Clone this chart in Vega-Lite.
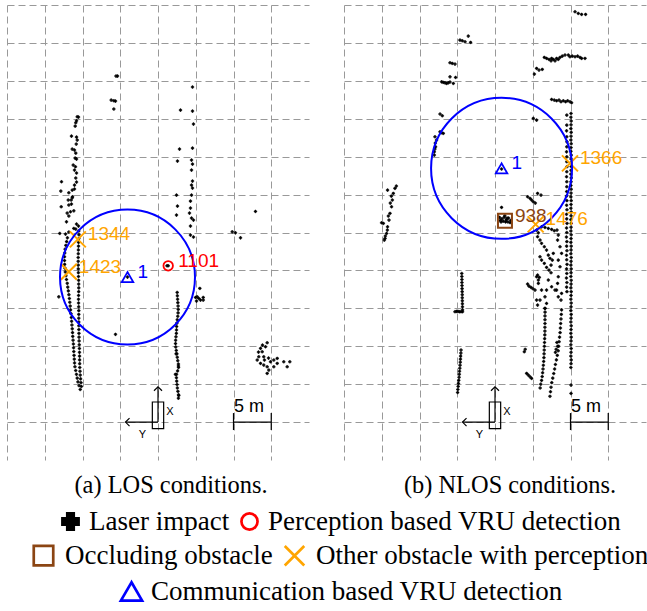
{
"$schema": "https://vega.github.io/schema/vega-lite/v6.json",
"padding": {"left": 7, "top": 5, "right": 0, "bottom": 0},
"bounds": "flush",
"spacing": 35,
"config": {
 "view": {"stroke": null},
 "axis": {"grid": true, "gridColor": "#999999", "gridDash": [7, 4], "gridWidth": 1, "gridOpacity": 1, "domain": false, "ticks": false, "labels": false},
 "legend": {"labelFont": "Liberation Serif", "labelFontSize": 27, "labelColor": "#000000", "labelLimit": 2000, "padding": 0, "symbolStrokeWidth": 2.7}
},
"datasets": {
 "markersA": [
  {"x": -10.62, "y": 24.09, "kind": "Other obstacle with perception", "id": "1344"},
  {"x": -11.81, "y": 19.82, "kind": "Other obstacle with perception", "id": "1423"},
  {"x": -4.04, "y": 19.12, "kind": "Communication based VRU detection", "id": "1"},
  {"x": 1.35, "y": 20.61, "kind": "Perception based VRU detection", "id": "1101"}
 ],
 "markersB": [
  {"x": 0.87, "y": 33.46, "kind": "Communication based VRU detection", "id": "1"},
  {"x": 1.32, "y": 26.55, "kind": "Occluding obstacle", "id": "938"},
  {"x": 5.38, "y": 26.07, "kind": "Other obstacle with perception", "id": "1476"},
  {"x": 9.93, "y": 34.12, "kind": "Other obstacle with perception", "id": "1366"}
 ],
 "veh": [{"x": -0.75, "x2": 0.75, "y": -0.85, "y2": 2.65}],
 "rules": [
  {"x": 0, "y": 0, "x2": 0, "y2": 4.66},
  {"x": 0, "y": 0, "x2": -4.3, "y2": 0},
  {"x": 10, "y": 0, "x2": 15, "y2": 0},
  {"x": 10, "y": -1.05, "x2": 10, "y2": 1.19},
  {"x": 15, "y": -1.05, "x2": 15, "y2": 1.19}
 ],
 "headUp": [{"x": 0, "y": 4.66}],
 "headLeft": [{"x": -4.3, "y": 0}],
 "letters": [{"x": 1.1, "y": 0.92, "t": "X"}, {"x": -2.54, "y": -2.11, "t": "Y"}],
 "scaleText": [{"x": 10.05, "y": 1.32, "t": "5  m"}],
 "lidarA": [
  {"x":-5.56,"y":45.63},{"x":-5.36,"y":45.63},{"x":-6.20,"y":42.46},{"x":-5.85,"y":42.37},{"x":-5.63,"y":42.33},{"x":-5.85,"y":41.28},
  {"x":-10.70,"y":40.26},{"x":-10.53,"y":40.22},{"x":-10.79,"y":39.73},{"x":-10.89,"y":39.47},{"x":-10.97,"y":39.03},{"x":-11.46,"y":37.71},{"x":-10.79,"y":37.58},{"x":-10.70,"y":37.19},{"x":-10.83,"y":36.66},{"x":-11.36,"y":36.00},{"x":-11.06,"y":35.87},{"x":-10.89,"y":35.47},{"x":-10.97,"y":34.81},{"x":-10.79,"y":34.68},{"x":-11.23,"y":33.89},{"x":-10.93,"y":33.67},{"x":-11.06,"y":33.23},{"x":-10.79,"y":32.84},{"x":-10.89,"y":32.18},{"x":-10.79,"y":31.65},{"x":-11.06,"y":31.25},{"x":-12.78,"y":31.69},{"x":-12.87,"y":30.46},{"x":-11.81,"y":30.24},{"x":-11.36,"y":30.59},{"x":-11.06,"y":30.73},{"x":-11.32,"y":29.71},{"x":-11.50,"y":29.28},{"x":-11.89,"y":29.28},{"x":-11.36,"y":29.58},{"x":-12.82,"y":28.39},{"x":-11.81,"y":28.62},{"x":-11.46,"y":28.75},{"x":-12.03,"y":27.56},{"x":-11.59,"y":27.73},{"x":-11.15,"y":27.86},{"x":-11.81,"y":27.17},{"x":-12.12,"y":26.41},{"x":-10.79,"y":26.11},{"x":-10.53,"y":25.85},{"x":-11.15,"y":25.54},{"x":-10.89,"y":25.45},{"x":-11.81,"y":25.06},{"x":-12.25,"y":24.79},{"x":-13.01,"y":24.88},
  {"x":-12.0,"y":24.3},{"x":-12.1,"y":23.8},{"x":-12.2,"y":23.3},{"x":-12.3,"y":22.8},{"x":-12.35,"y":22.3},{"x":-12.38,"y":21.8},{"x":-12.38,"y":21.3},{"x":-12.36,"y":20.8},{"x":-12.32,"y":20.3},{"x":-12.28,"y":19.8},{"x":-12.2,"y":19.3},{"x":-12.12,"y":18.8},{"x":-12.02,"y":18.3},{"x":-11.95,"y":17.8},{"x":-11.88,"y":17.3},{"x":-11.8,"y":16.8},{"x":-11.74,"y":16.3},{"x":-11.68,"y":15.8},{"x":-11.63,"y":15.3},{"x":-11.58,"y":14.8},{"x":-11.53,"y":14.3},{"x":-11.48,"y":13.8},{"x":-11.44,"y":13.3},{"x":-11.40,"y":12.8},{"x":-11.36,"y":12.3},{"x":-11.32,"y":11.8},{"x":-11.29,"y":11.3},{"x":-11.25,"y":10.8},{"x":-11.21,"y":10.3},{"x":-11.18,"y":9.8},{"x":-11.15,"y":9.3},{"x":-11.12,"y":8.8},{"x":-11.09,"y":8.3},{"x":-11.05,"y":7.8},{"x":-11.0,"y":7.3},{"x":-10.9,"y":6.8},{"x":-10.8,"y":6.3},{"x":-10.7,"y":5.8},{"x":-10.6,"y":5.3},{"x":-10.45,"y":4.8},{"x":-10.3,"y":4.3},
  {"x":-10.49,"y":25.2},{"x":-10.47,"y":24.7},{"x":-10.49,"y":24.2},{"x":-10.52,"y":23.7},{"x":-10.53,"y":23.2},{"x":-10.55,"y":22.7},{"x":-10.56,"y":22.2},{"x":-10.57,"y":21.7},{"x":-10.57,"y":21.2},{"x":-10.57,"y":20.7},{"x":-10.56,"y":20.2},{"x":-10.55,"y":19.7},{"x":-10.53,"y":19.2},{"x":-10.51,"y":18.7},{"x":-10.50,"y":18.2},{"x":-10.49,"y":17.7},{"x":-10.50,"y":17.2},{"x":-10.52,"y":16.7},{"x":-10.53,"y":16.2},{"x":-10.52,"y":15.7},{"x":-10.50,"y":15.2},{"x":-10.49,"y":14.7},{"x":-10.49,"y":14.2},{"x":-10.49,"y":13.7},{"x":-10.49,"y":13.2},{"x":-10.48,"y":12.7},{"x":-10.48,"y":12.2},{"x":-10.47,"y":11.7},{"x":-10.46,"y":11.2},{"x":-10.45,"y":10.7},{"x":-10.43,"y":10.2},{"x":-10.41,"y":9.7},{"x":-10.40,"y":9.2},{"x":-10.39,"y":8.7},{"x":-10.38,"y":8.2},{"x":-10.37,"y":7.7},{"x":-10.36,"y":7.2},{"x":-10.33,"y":6.7},{"x":-10.30,"y":6.2},{"x":-10.25,"y":5.7},{"x":-10.2,"y":5.2},{"x":-10.15,"y":4.7},
  {"x":-13.14,"y":16.52},
  {"x":4.57,"y":44.18},{"x":2.98,"y":41.14},{"x":4.57,"y":41.01},{"x":4.70,"y":39.30},{"x":2.85,"y":36.00},{"x":4.57,"y":36.13},{"x":2.58,"y":34.42},{"x":4.44,"y":34.55},{"x":4.57,"y":34.02},{"x":4.44,"y":33.23},{"x":4.57,"y":31.78},{"x":4.44,"y":31.25},{"x":4.57,"y":30.86},{"x":2.45,"y":29.93},{"x":4.44,"y":29.93},{"x":4.30,"y":29.14},{"x":2.58,"y":28.48},{"x":4.30,"y":28.22},{"x":2.45,"y":27.30},{"x":4.17,"y":27.56},{"x":4.44,"y":26.90},{"x":4.70,"y":26.64},{"x":4.30,"y":25.85},{"x":4.30,"y":24.66},{"x":4.70,"y":24.40},
  {"x":2.54,"y":17.1},{"x":2.56,"y":16.65},{"x":2.60,"y":16.2},{"x":2.63,"y":15.75},{"x":2.66,"y":15.3},{"x":2.68,"y":14.85},{"x":2.66,"y":14.4},{"x":2.62,"y":13.95},{"x":2.55,"y":13.5},{"x":2.50,"y":13.05},{"x":2.47,"y":12.6},{"x":2.45,"y":12.15},{"x":2.43,"y":11.7},{"x":2.38,"y":11.25},{"x":2.34,"y":10.8},{"x":2.32,"y":10.35},{"x":2.35,"y":9.9},{"x":2.42,"y":9.45},{"x":2.50,"y":9.0},{"x":2.55,"y":8.55},{"x":2.62,"y":8.1},{"x":2.70,"y":7.65},{"x":2.72,"y":7.2},{"x":2.60,"y":6.75},{"x":2.46,"y":6.3},{"x":2.44,"y":5.85},{"x":2.48,"y":5.4},{"x":2.52,"y":4.95},{"x":2.56,"y":4.5},{"x":2.64,"y":4.05},{"x":2.72,"y":3.6},{"x":2.70,"y":3.15},{"x":2.40,"y":9.0},{"x":2.70,"y":7.4},{"x":2.30,"y":6.3},{"x":2.75,"y":3.5},
  {"x":5.54,"y":17.63},{"x":4.97,"y":16.44},{"x":5.40,"y":16.31},{"x":5.63,"y":16.09},{"x":5.99,"y":16.44},{"x":5.99,"y":16.09},{"x":5.19,"y":16.52},{"x":5.10,"y":15.96},
  {"x":12.91,"y":27.78},{"x":9.83,"y":25.09},{"x":10.26,"y":24.96},{"x":10.93,"y":24.30},{"x":-5.63,"y":11.57},
  {"x":14.46,"y":10.46},{"x":14.24,"y":9.93},{"x":13.58,"y":9.72},{"x":13.35,"y":8.61},{"x":13.14,"y":8.18},{"x":13.58,"y":7.74},{"x":14.01,"y":7.52},{"x":14.46,"y":7.29},{"x":14.68,"y":6.86},{"x":14.46,"y":6.42},{"x":14.90,"y":7.95},{"x":15.34,"y":8.18},{"x":15.79,"y":8.40},{"x":16.66,"y":7.95},{"x":17.46,"y":7.95},{"x":17.11,"y":7.29},{"x":15.34,"y":7.29},{"x":15.79,"y":7.74},{"x":14.01,"y":8.61},{"x":13.80,"y":9.27},{"x":13.84,"y":10.15},{"x":13.31,"y":9.23},{"x":14.1,"y":8.18},{"x":14.64,"y":8.44},
  {"x":-4.04,"y":19.12},{"x":1.35,"y":20.61},{"x":1.19,"y":20.61}
 ],
 "lidarB": [
  {"x":10.60,"y":54.11},{"x":11.03,"y":53.89},{"x":11.47,"y":53.76},{"x":12.00,"y":53.76},
  {"x":-4.64,"y":50.37},{"x":-4.33,"y":50.28},{"x":-3.97,"y":50.15},{"x":-3.54,"y":50.90},{"x":-3.23,"y":50.07},
  {"x":-5.96,"y":47.38},{"x":-5.66,"y":47.30},{"x":-5.30,"y":47.21},{"x":-5.96,"y":45.53},{"x":-5.22,"y":45.45},
  {"x":-7.07,"y":44.87},{"x":-6.85,"y":44.80},{"x":-6.62,"y":44.74},{"x":-6.41,"y":44.66},{"x":-6.19,"y":44.74},{"x":-5.96,"y":44.84},{"x":-5.52,"y":44.66},
  {"x":-7.28,"y":40.62},{"x":-6.98,"y":40.39},
  {"x":-7.95,"y":37.62},{"x":-7.74,"y":37.19},{"x":-7.87,"y":36.30},{"x":-8.04,"y":35.64},{"x":-8.04,"y":35.21},{"x":-7.28,"y":38.28},{"x":-7.07,"y":38.15},{"x":-6.85,"y":38.07},{"x":-7.91,"y":36.79},{"x":-7.97,"y":36.00},
  {"x":5.21,"y":45.89},{"x":5.51,"y":46.64},{"x":5.83,"y":46.42},{"x":6.26,"y":46.51},
  {"x":6.53,"y":48.09},{"x":6.83,"y":47.96},{"x":7.15,"y":47.83},{"x":7.42,"y":47.64},{"x":7.72,"y":47.83},{"x":7.95,"y":47.64},{"x":8.16,"y":47.96},{"x":8.61,"y":48.09},{"x":8.91,"y":48.26},{"x":9.27,"y":48.40},{"x":9.71,"y":48.40},{"x":9.93,"y":48.17},{"x":10.24,"y":48.26},{"x":10.60,"y":48.17},{"x":10.94,"y":48.26},{"x":11.26,"y":48.09},{"x":11.47,"y":47.96},{"x":11.92,"y":47.96},{"x":7.50,"y":47.96},{"x":8.38,"y":47.83},
  {"x":7.50,"y":42.55},{"x":7.85,"y":42.46},{"x":8.16,"y":42.37},{"x":8.48,"y":42.46},{"x":8.74,"y":42.24},{"x":9.05,"y":42.37},{"x":9.35,"y":42.24},{"x":9.62,"y":42.37},{"x":9.93,"y":42.24},{"x":10.15,"y":42.11},
  {"x":5.07,"y":40.05},{"x":5.51,"y":39.82},
  {"x":10.07,"y":40.7},{"x":10.05,"y":40.2},{"x":10.09,"y":39.7},{"x":10.07,"y":39.2},{"x":10.05,"y":38.7},{"x":10.09,"y":38.2},{"x":10.07,"y":37.7},{"x":10.05,"y":37.2},{"x":10.09,"y":36.7},{"x":10.07,"y":36.2},{"x":10.05,"y":35.7},{"x":10.09,"y":35.2},{"x":10.07,"y":34.7},{"x":10.05,"y":34.2},{"x":10.09,"y":33.7},{"x":10.07,"y":33.2},{"x":10.05,"y":32.7},{"x":10.09,"y":32.2},{"x":10.07,"y":31.7},{"x":10.05,"y":31.2},{"x":10.09,"y":30.7},{"x":10.07,"y":30.2},{"x":10.05,"y":29.7},{"x":10.09,"y":29.2},{"x":10.07,"y":28.7},{"x":10.05,"y":28.2},{"x":10.09,"y":27.7},{"x":10.07,"y":27.2},{"x":10.05,"y":26.7},{"x":10.09,"y":26.2},{"x":10.07,"y":25.7},{"x":10.05,"y":25.2},{"x":10.09,"y":24.7},{"x":10.07,"y":24.2},{"x":10.05,"y":23.7},{"x":10.09,"y":23.2},{"x":10.07,"y":22.7},{"x":10.05,"y":22.2},{"x":10.09,"y":21.7},{"x":10.07,"y":21.2},{"x":10.05,"y":20.7},{"x":10.09,"y":20.2},{"x":10.07,"y":19.7},{"x":10.05,"y":19.2},{"x":10.09,"y":18.7},{"x":10.07,"y":18.2},{"x":10.05,"y":17.7},{"x":10.09,"y":17.2},{"x":10.07,"y":16.7},{"x":10.05,"y":16.2},{"x":10.09,"y":15.7},{"x":10.07,"y":15.2},{"x":10.05,"y":14.7},{"x":10.09,"y":14.2},{"x":10.07,"y":13.7},{"x":10.05,"y":13.2},{"x":10.09,"y":12.7},{"x":10.07,"y":12.2},{"x":10.05,"y":11.7},{"x":10.09,"y":11.2},{"x":10.07,"y":10.7},{"x":10.05,"y":10.2},{"x":10.09,"y":9.7},{"x":10.07,"y":9.2},{"x":10.05,"y":8.7},{"x":10.09,"y":8.2},{"x":10.07,"y":7.7},{"x":10.05,"y":7.2},{"x":10.07,"y":4.88},{"x":10.07,"y":3.78},
  {"x":9.51,"y":40.48},{"x":9.51,"y":39.16},{"x":9.48,"y":38.41},{"x":9.51,"y":37.62},{"x":9.53,"y":36.96},{"x":9.51,"y":36.30},{"x":9.48,"y":35.64},{"x":9.51,"y":34.98},{"x":9.51,"y":34.33},{"x":9.53,"y":33.67},{"x":9.51,"y":33.01},{"x":9.48,"y":32.35},{"x":9.51,"y":31.69},{"x":9.51,"y":31.03},
  {"x":9.50,"y":30.4},{"x":9.47,"y":29.8},{"x":9.52,"y":29.2},{"x":9.49,"y":28.6},{"x":9.53,"y":28.0},{"x":9.47,"y":27.4},{"x":9.50,"y":26.8},{"x":9.54,"y":26.2},{"x":9.48,"y":25.6},{"x":9.51,"y":25.0},{"x":9.46,"y":24.4},{"x":9.52,"y":23.8},{"x":9.49,"y":23.2},{"x":9.53,"y":22.6},{"x":9.47,"y":22.0},{"x":9.50,"y":21.4},{"x":9.54,"y":20.8},{"x":9.48,"y":20.2},{"x":9.51,"y":19.6},{"x":9.46,"y":19.0},{"x":9.52,"y":18.4},{"x":9.49,"y":17.8},{"x":9.53,"y":17.2},
  {"x":-13.25,"y":30.82},{"x":-14.23,"y":30.59},{"x":-13.47,"y":30.16},{"x":-13.60,"y":29.28},{"x":-13.70,"y":28.39},{"x":-13.91,"y":27.52},{"x":-14.04,"y":26.64},{"x":-14.23,"y":25.75},{"x":-14.36,"y":24.88},{"x":-14.57,"y":24.22},{"x":-15.02,"y":26.28},{"x":-14.79,"y":26.20},{"x":-13.87,"y":28.88},{"x":-14.13,"y":27.17},{"x":-14.53,"y":24.53},{"x":-14.26,"y":25.32},{"x":-13.73,"y":29.80},{"x":-13.07,"y":31.12},{"x":-14.66,"y":24.00},
  {"x":-4.40,"y":19.6},{"x":-4.39,"y":19.2},{"x":-4.38,"y":18.8},{"x":-4.38,"y":18.4},{"x":-4.37,"y":18.0},{"x":-4.36,"y":17.6},{"x":-4.35,"y":17.2},{"x":-4.34,"y":16.8},{"x":-4.34,"y":16.4},{"x":-4.33,"y":16.0},{"x":-4.32,"y":15.6},{"x":-4.31,"y":15.2},{"x":-4.30,"y":14.8},{"x":-4.30,"y":14.55},{"x":-4.5,"y":14.55},{"x":-4.7,"y":14.55},{"x":-4.9,"y":14.6},{"x":-5.1,"y":14.6},{"x":-5.3,"y":14.55},
  {"x":-4.50,"y":9.5},{"x":-4.52,"y":9.1},{"x":-4.55,"y":8.7},{"x":-4.58,"y":8.3},{"x":-4.60,"y":7.9},{"x":-4.63,"y":7.5},{"x":-4.66,"y":7.1},{"x":-4.70,"y":6.7},{"x":-4.73,"y":6.3},{"x":-4.76,"y":5.9},{"x":-4.80,"y":5.5},{"x":-4.84,"y":5.1},{"x":-4.88,"y":4.7},{"x":-4.92,"y":4.3},{"x":-4.95,"y":3.9},
  {"x":4.32,"y":29.71},{"x":4.64,"y":29.50},{"x":4.85,"y":29.28},{"x":5.07,"y":29.05},{"x":5.64,"y":30.16},{"x":6.09,"y":29.93},{"x":0.87,"y":28.31},{"x":5.34,"y":28.88},
  {"x":0.6,"y":27.0},{"x":0.9,"y":26.8},{"x":1.2,"y":27.0},{"x":1.5,"y":26.7},{"x":1.8,"y":26.9},{"x":2.1,"y":26.6},{"x":0.8,"y":26.4},{"x":1.1,"y":26.5},{"x":1.4,"y":26.4},{"x":1.7,"y":26.4},{"x":2.0,"y":26.3},{"x":1.3,"y":27.2},{"x":0.7,"y":26.6},{"x":1.6,"y":26.9},
  {"x":6.17,"y":25.75},{"x":6.62,"y":25.67},{"x":7.06,"y":25.54},{"x":7.50,"y":25.41},{"x":7.85,"y":25.23},{"x":5.51,"y":25.32},{"x":5.74,"y":24.96},{"x":5.64,"y":24.44},{"x":5.96,"y":24.00},{"x":6.17,"y":23.57},{"x":6.53,"y":23.12},{"x":6.83,"y":22.68},{"x":7.06,"y":22.02},{"x":7.28,"y":21.59},{"x":8.21,"y":25.32},{"x":8.38,"y":24.66},{"x":8.29,"y":24.00},{"x":8.61,"y":23.12},{"x":8.82,"y":22.25},{"x":5.96,"y":21.80},{"x":6.17,"y":21.36},{"x":6.53,"y":20.93},{"x":6.83,"y":20.40},{"x":7.15,"y":20.04},{"x":7.42,"y":19.69},{"x":7.72,"y":22.25},{"x":7.59,"y":21.36},{"x":7.42,"y":20.70},{"x":5.64,"y":19.38},{"x":5.87,"y":19.08},{"x":5.74,"y":18.73},{"x":8.38,"y":21.36},{"x":8.61,"y":20.48},{"x":8.38,"y":19.16},{"x":8.29,"y":18.29},{"x":8.16,"y":17.41},{"x":6.83,"y":17.41},{"x":6.62,"y":16.52},{"x":6.83,"y":15.65},{"x":6.62,"y":14.99},{"x":4.32,"y":18.20},{"x":4.50,"y":17.93},{"x":4.77,"y":17.76},{"x":5.03,"y":17.58},{"x":5.30,"y":17.41},{"x":5.51,"y":16.09},{"x":5.64,"y":15.43},{"x":5.51,"y":19.16},{"x":5.74,"y":18.29},{"x":6.17,"y":17.41},{"x":5.96,"y":16.09},{"x":7.06,"y":18.73},{"x":7.50,"y":17.84},{"x":7.95,"y":17.41},{"x":8.38,"y":16.52},{"x":8.74,"y":16.09},{"x":8.82,"y":16.97},
  {"x":6.62,"y":15.0},{"x":6.63,"y":14.5},{"x":6.62,"y":14.0},{"x":6.62,"y":13.5},{"x":6.62,"y":13.0},{"x":6.61,"y":12.5},{"x":6.61,"y":12.0},{"x":6.60,"y":11.5},{"x":6.58,"y":11.0},{"x":6.56,"y":10.5},{"x":6.54,"y":10.0},{"x":6.52,"y":9.5},{"x":6.50,"y":9.0},{"x":6.48,"y":8.5},{"x":6.45,"y":8.0},{"x":6.40,"y":7.5},{"x":6.36,"y":7.0},{"x":6.31,"y":6.5},{"x":6.25,"y":6.0},{"x":6.17,"y":5.5},{"x":6.06,"y":5.0},{"x":5.98,"y":4.5},
  {"x":8.82,"y":14.8},{"x":8.78,"y":14.2},{"x":8.74,"y":13.6},{"x":8.70,"y":13.0},{"x":8.66,"y":12.4},{"x":8.62,"y":11.8},{"x":8.55,"y":11.2},{"x":8.49,"y":10.6},{"x":8.43,"y":10.0},{"x":8.37,"y":9.4},{"x":8.25,"y":8.8},{"x":8.13,"y":8.2},{"x":8.00,"y":7.6},{"x":7.90,"y":7.0},{"x":7.78,"y":6.4},{"x":7.65,"y":5.8},{"x":7.52,"y":5.2},{"x":7.42,"y":4.6},{"x":7.35,"y":4.0},{"x":7.28,"y":3.4},
  {"x":8.2,"y":10.5},{"x":8.3,"y":10.0},{"x":8.1,"y":9.6},{"x":8.0,"y":9.2},{"x":4.19,"y":6.42},{"x":4.41,"y":6.20},{"x":4.64,"y":5.97},{"x":4.85,"y":5.76},{"x":3.88,"y":9.27},{"x":4.0,"y":9.6},
  {"x":0.87,"y":33.37}
 ]
},
"hconcat": [
 {
  "width": 302, "height": 455,
  "encoding": {
   "x": {"field": "x", "type": "quantitative", "scale": {"domain": [-20, 20], "nice": false, "zero": false},
    "axis": {"values": [-20, -15, -10, -5, 0, 5, 10, 15], "title": "(a) LOS conditions.", "titleFont": "Liberation Serif", "titleFontSize": 24.4, "titleFontWeight": "normal", "titleColor": "#000000", "titleX": 163.5, "titleY": 32, "titleAlign": "center", "titleBaseline": "alphabetic"}},
   "y": {"field": "y", "type": "quantitative", "scale": {"domain": [-5, 55], "nice": false, "zero": false},
    "axis": {"values": [0, 5, 10, 15, 20, 25, 30, 35, 40, 45, 50, 55], "title": null}}
  },
  "layer": [
   {"layer": [
    {"data": {"name": "lidarA"}, "mark": {"type": "point", "size": 7, "strokeWidth": 0.6, "opacity": 1},
     "encoding": {
      "shape": {"datum": "Laser impact", "type": "nominal", "scale": {"domain": ["Laser impact", "Perception based VRU detection"], "range": ["cross", "circle"]},
       "legend": {"title": null, "orient": "none", "legendX": 50, "legendY": 503, "direction": "horizontal", "symbolSize": 260, "labelOffset": 5, "columnPadding": 6}},
      "fill": {"datum": "Laser impact", "type": "nominal", "scale": {"domain": ["Laser impact", "Perception based VRU detection"], "range": ["#000000", "transparent"]},
       "legend": {"title": null, "orient": "none", "legendX": 50, "legendY": 503, "direction": "horizontal", "symbolSize": 260, "labelOffset": 5, "columnPadding": 6}},
      "stroke": {"datum": "Laser impact", "type": "nominal", "scale": {"domain": ["Laser impact", "Perception based VRU detection"], "range": ["#000000", "#FF0000"]},
       "legend": {"title": null, "orient": "none", "legendX": 50, "legendY": 503, "direction": "horizontal", "symbolSize": 260, "labelOffset": 5, "columnPadding": 6}}
     }},
    {"data": {"name": "markersA"}, "transform": [{"filter": "datum.kind === 'Perception based VRU detection'"}],
     "mark": {"type": "point", "size": 90, "strokeWidth": 1.8, "opacity": 1},
     "encoding": {
      "shape": {"field": "kind", "type": "nominal", "scale": {"domain": ["Laser impact", "Perception based VRU detection"], "range": ["cross", "circle"]},
       "legend": {"title": null, "orient": "none", "legendX": 50, "legendY": 503, "direction": "horizontal", "symbolSize": 260, "labelOffset": 5, "columnPadding": 6}},
      "fill": {"field": "kind", "type": "nominal", "scale": {"domain": ["Laser impact", "Perception based VRU detection"], "range": ["#000000", "transparent"]},
       "legend": {"title": null, "orient": "none", "legendX": 50, "legendY": 503, "direction": "horizontal", "symbolSize": 260, "labelOffset": 5, "columnPadding": 6}},
      "stroke": {"field": "kind", "type": "nominal", "scale": {"domain": ["Laser impact", "Perception based VRU detection"], "range": ["#000000", "#FF0000"]},
       "legend": {"title": null, "orient": "none", "legendX": 50, "legendY": 503, "direction": "horizontal", "symbolSize": 260, "labelOffset": 5, "columnPadding": 6}}
     }}
   ]},
   {"layer": [
    {"data": {"name": "markersA"}, "transform": [{"filter": "datum.kind === 'Occluding obstacle'"}],
     "mark": {"type": "point", "filled": false, "size": 196, "strokeWidth": 2, "opacity": 1},
     "encoding": {
      "shape": {"field": "kind", "type": "nominal", "scale": {"domain": ["Occluding obstacle", "Other obstacle with perception"], "range": ["square", "M-1,-1L1,1M-1,1L1,-1"]},
       "legend": {"title": null, "orient": "none", "legendX": 23, "legendY": 537, "direction": "horizontal", "symbolSize": 380, "labelOffset": 8, "columnPadding": 6}},
      "stroke": {"field": "kind", "type": "nominal", "scale": {"domain": ["Occluding obstacle", "Other obstacle with perception"], "range": ["#8B4513", "#FFA500"]},
       "legend": {"title": null, "orient": "none", "legendX": 23, "legendY": 537, "direction": "horizontal", "symbolSize": 380, "labelOffset": 8, "columnPadding": 6}}
     }},
    {"data": {"name": "markersA"}, "transform": [{"filter": "datum.kind === 'Other obstacle with perception'"}],
     "mark": {"type": "point", "filled": false, "size": 256, "strokeWidth": 2, "opacity": 1},
     "encoding": {
      "shape": {"field": "kind", "type": "nominal", "scale": {"domain": ["Occluding obstacle", "Other obstacle with perception"], "range": ["square", "M-1,-1L1,1M-1,1L1,-1"]},
       "legend": {"title": null, "orient": "none", "legendX": 23, "legendY": 537, "direction": "horizontal", "symbolSize": 380, "labelOffset": 8, "columnPadding": 6}},
      "stroke": {"field": "kind", "type": "nominal", "scale": {"domain": ["Occluding obstacle", "Other obstacle with perception"], "range": ["#8B4513", "#FFA500"]},
       "legend": {"title": null, "orient": "none", "legendX": 23, "legendY": 537, "direction": "horizontal", "symbolSize": 380, "labelOffset": 8, "columnPadding": 6}}
     }}
   ]},
   {"data": {"name": "markersA"}, "transform": [{"filter": "datum.kind === 'Communication based VRU detection'"}],
    "mark": {"type": "point", "filled": false, "size": 132, "strokeWidth": 1.8, "opacity": 1},
    "encoding": {
     "shape": {"field": "kind", "type": "nominal", "scale": {"domain": ["Communication based VRU detection"], "range": ["triangle-up"]},
      "legend": {"title": null, "orient": "none", "legendX": 111, "legendY": 573, "direction": "horizontal", "symbolSize": 450, "labelOffset": 6}},
     "stroke": {"field": "kind", "type": "nominal", "scale": {"domain": ["Communication based VRU detection"], "range": ["#0000FF"]},
      "legend": {"title": null, "orient": "none", "legendX": 111, "legendY": 573, "direction": "horizontal", "symbolSize": 450, "labelOffset": 6}}
    }},
   {"data": {"name": "markersA"}, "transform": [{"filter": "datum.kind === 'Communication based VRU detection'"}],
    "mark": {"type": "point", "shape": "circle", "size": 18225, "filled": false, "stroke": "#0000FF", "strokeWidth": 2, "opacity": 1}},
   {"data": {"name": "markersA"},
    "mark": {"type": "text", "align": "left", "baseline": "alphabetic", "dx": 10, "dy": 1, "font": "Liberation Sans", "fontSize": 19},
    "encoding": {"text": {"field": "id"},
     "color": {"field": "kind", "type": "nominal", "scale": {"domain": ["Perception based VRU detection", "Occluding obstacle", "Other obstacle with perception", "Communication based VRU detection"], "range": ["#FF0000", "#8B4513", "#FFA500", "#0000FF"]}, "legend": null}}},
   {"data": {"name": "veh"}, "mark": {"type": "rect", "filled": false, "stroke": "#000000", "strokeWidth": 1.2},
    "encoding": {"x2": {"field": "x2"}, "y2": {"field": "y2"}}},
   {"data": {"name": "rules"}, "mark": {"type": "rule", "stroke": "#000000", "strokeWidth": 1.2},
    "encoding": {"x2": {"field": "x2"}, "y2": {"field": "y2"}}},
   {"data": {"name": "headUp"}, "mark": {"type": "point", "shape": "M-1,1L0,0L1,1", "size": 64, "filled": false, "stroke": "#000000", "strokeWidth": 1.2, "opacity": 1}},
   {"data": {"name": "headLeft"}, "mark": {"type": "point", "shape": "M1,-1L0,0L1,1", "size": 64, "filled": false, "stroke": "#000000", "strokeWidth": 1.2, "opacity": 1}},
   {"data": {"name": "letters"}, "mark": {"type": "text", "align": "left", "baseline": "alphabetic", "font": "Liberation Sans", "fontSize": 11, "color": "#000000"},
    "encoding": {"text": {"field": "t"}}},
   {"data": {"name": "scaleText"}, "mark": {"type": "text", "align": "left", "baseline": "alphabetic", "font": "Liberation Sans", "fontSize": 18, "color": "#000000"},
    "encoding": {"text": {"field": "t"}}}
  ],
  "resolve": {"scale": {"shape": "independent", "fill": "independent", "stroke": "independent", "color": "independent"}}
 },
 {
  "width": 302, "height": 455,
  "encoding": {
   "x": {"field": "x", "type": "quantitative", "scale": {"domain": [-20, 20], "nice": false, "zero": false},
    "axis": {"values": [-20, -15, -10, -5, 0, 5, 10, 15], "title": "(b) NLOS conditions.", "titleFont": "Liberation Serif", "titleFontSize": 24.4, "titleFontWeight": "normal", "titleColor": "#000000", "titleX": 165.5, "titleY": 32, "titleAlign": "center", "titleBaseline": "alphabetic"}},
   "y": {"field": "y", "type": "quantitative", "scale": {"domain": [-5, 55], "nice": false, "zero": false},
    "axis": {"values": [0, 5, 10, 15, 20, 25, 30, 35, 40, 45, 50, 55], "title": null}}
  },
  "layer": [
   {"data": {"name": "lidarB"}, "mark": {"type": "point", "shape": "cross", "size": 7, "strokeWidth": 0.6, "fill": "#000000", "stroke": "#000000", "opacity": 1}},
   {"data": {"name": "markersB"}, "transform": [{"filter": "datum.kind === 'Occluding obstacle'"}],
    "mark": {"type": "point", "shape": "square", "filled": false, "size": 196, "stroke": "#8B4513", "strokeWidth": 2, "opacity": 1}},
   {"data": {"name": "markersB"}, "transform": [{"filter": "datum.kind === 'Other obstacle with perception'"}],
    "mark": {"type": "point", "shape": "M-1,-1L1,1M-1,1L1,-1", "filled": false, "size": 256, "stroke": "#FFA500", "strokeWidth": 2, "opacity": 1}},
   {"data": {"name": "markersB"}, "transform": [{"filter": "datum.kind === 'Communication based VRU detection'"}],
    "mark": {"type": "point", "shape": "triangle-up", "filled": false, "size": 132, "stroke": "#0000FF", "strokeWidth": 1.8, "opacity": 1}},
   {"data": {"name": "markersB"}, "transform": [{"filter": "datum.kind === 'Communication based VRU detection'"}],
    "mark": {"type": "point", "shape": "circle", "size": 19881, "filled": false, "stroke": "#0000FF", "strokeWidth": 2, "opacity": 1}},
   {"data": {"name": "markersB"},
    "mark": {"type": "text", "align": "left", "baseline": "alphabetic", "dx": 10, "dy": 1, "font": "Liberation Sans", "fontSize": 19},
    "encoding": {"text": {"field": "id"},
     "color": {"field": "kind", "type": "nominal", "scale": {"domain": ["Perception based VRU detection", "Occluding obstacle", "Other obstacle with perception", "Communication based VRU detection"], "range": ["#FF0000", "#8B4513", "#FFA500", "#0000FF"]}, "legend": null}}},
   {"data": {"name": "veh"}, "mark": {"type": "rect", "filled": false, "stroke": "#000000", "strokeWidth": 1.2},
    "encoding": {"x2": {"field": "x2"}, "y2": {"field": "y2"}}},
   {"data": {"name": "rules"}, "mark": {"type": "rule", "stroke": "#000000", "strokeWidth": 1.2},
    "encoding": {"x2": {"field": "x2"}, "y2": {"field": "y2"}}},
   {"data": {"name": "headUp"}, "mark": {"type": "point", "shape": "M-1,1L0,0L1,1", "size": 64, "filled": false, "stroke": "#000000", "strokeWidth": 1.2, "opacity": 1}},
   {"data": {"name": "headLeft"}, "mark": {"type": "point", "shape": "M1,-1L0,0L1,1", "size": 64, "filled": false, "stroke": "#000000", "strokeWidth": 1.2, "opacity": 1}},
   {"data": {"name": "letters"}, "mark": {"type": "text", "align": "left", "baseline": "alphabetic", "font": "Liberation Sans", "fontSize": 11, "color": "#000000"},
    "encoding": {"text": {"field": "t"}}},
   {"data": {"name": "scaleText"}, "mark": {"type": "text", "align": "left", "baseline": "alphabetic", "font": "Liberation Sans", "fontSize": 18, "color": "#000000"},
    "encoding": {"text": {"field": "t"}}}
  ],
  "resolve": {"scale": {"color": "independent"}}
 }
]
}
